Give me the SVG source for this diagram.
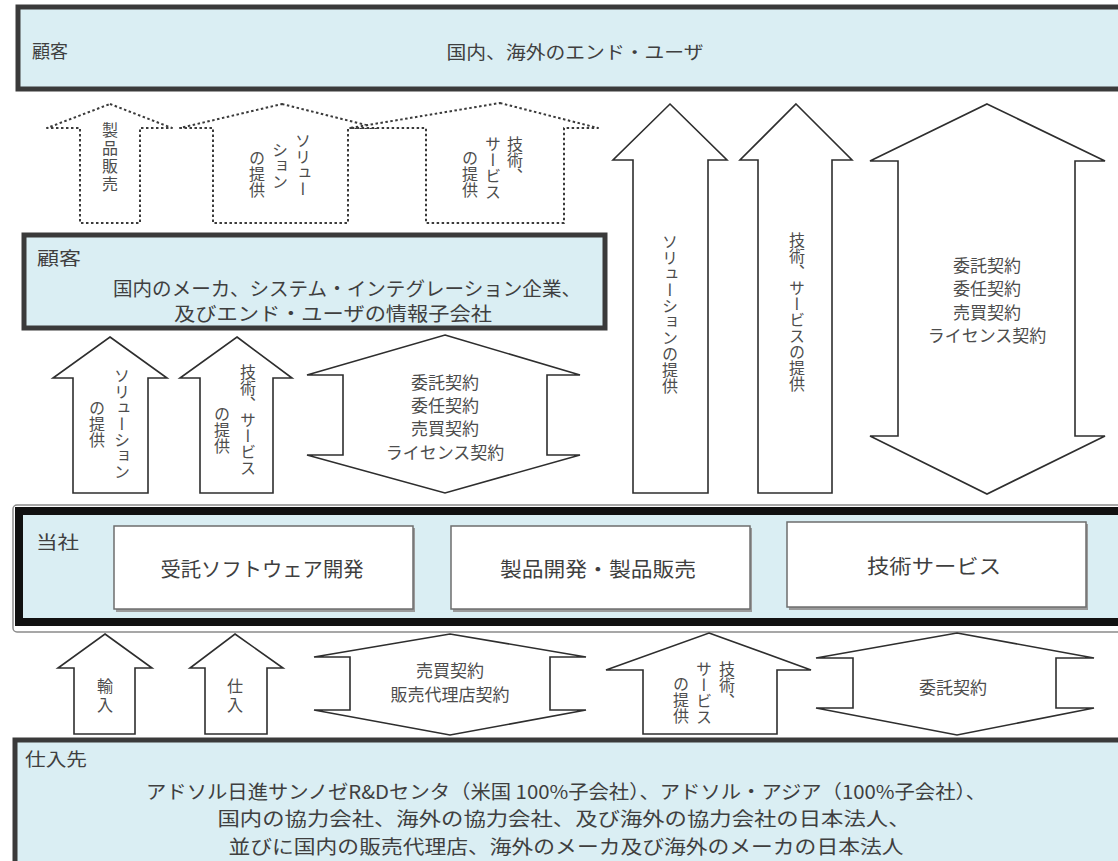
<svg xmlns="http://www.w3.org/2000/svg" width="1118" height="861" viewBox="0 0 1118 861">
<defs>
<style>
text{font-family:"Noto Sans CJK JP","Noto Sans CJK SC",sans-serif;fill:#3f3f3f;}
.band{fill:#DAEEF3;stroke:#3a3a3a;stroke-width:5;}
.arrow{fill:#ffffff;stroke:#2e2e2e;stroke-width:1.6;stroke-linejoin:miter;}
.dash{fill:#ffffff;stroke:#3a3a3a;stroke-width:2;stroke-dasharray:2.5 2.5;stroke-linejoin:round;}
.v{writing-mode:vertical-rl;font-size:16px;fill:#4d4d4d;}
.lbl{font-size:17px;fill:#4d4d4d;text-anchor:middle;}
.h19{font-size:19px;text-anchor:middle;}
.box{fill:#ffffff;stroke:#6e6e6e;stroke-width:1.5;}
.shadow{fill:#9a9a9a;}
</style>
</defs>
<rect x="0" y="0" width="1118" height="861" fill="#ffffff"/>

<g id="customer-top">
<rect class="band" x="18" y="7" width="1110" height="82"/>
<text x="32" y="58" font-size="18">顧客</text>
<text x="575" y="59" font-size="18" text-anchor="middle" textLength="257" lengthAdjust="spacingAndGlyphs">国内、海外のエンド・ユーザ</text>
</g>

<g id="customer-mid">
<rect class="band" x="24" y="235" width="581" height="93"/>
<text x="37" y="265" font-size="18" textLength="44" lengthAdjust="spacingAndGlyphs">顧客</text>
<text class="h19" x="347" y="296" textLength="468" lengthAdjust="spacingAndGlyphs">国内のメーカ、システム・インテグレーション企業、</text>
<text class="h19" x="333" y="321" textLength="318" lengthAdjust="spacingAndGlyphs">及びエンド・ユーザの情報子会社</text>
</g>

<g id="company">
<rect x="13" y="505" width="1120" height="127" rx="4" fill="none" stroke="#8a8a8a" stroke-width="1.5"/>
<rect x="19" y="511" width="1110" height="111" fill="#DAEEF3" stroke="#111111" stroke-width="8"/>
<text x="36" y="549" font-size="18" textLength="43" lengthAdjust="spacingAndGlyphs">当社</text>
<g id="dev">
<rect class="shadow" x="116" y="528" width="299" height="84"/>
<rect class="box" x="114" y="526" width="299" height="83"/>
<text x="262" y="577" font-size="20" text-anchor="middle" textLength="203" lengthAdjust="spacingAndGlyphs">受託ソフトウェア開発</text>
</g>
<g id="product">
<rect class="shadow" x="453" y="528" width="299" height="84"/>
<rect class="box" x="451" y="526" width="299" height="83"/>
<text x="598" y="577" font-size="20" text-anchor="middle" textLength="196" lengthAdjust="spacingAndGlyphs">製品開発・製品販売</text>
</g>
<g id="service">
<rect class="shadow" x="789" y="524" width="299" height="86"/>
<rect class="box" x="787" y="522" width="299" height="85"/>
<text x="934" y="574" font-size="20" text-anchor="middle" textLength="134" lengthAdjust="spacingAndGlyphs">技術サービス</text>
</g>
</g>

<g id="supplier">
<rect class="band" x="15" y="740" width="1115" height="130"/>
<text x="25" y="766" font-size="18" textLength="62" lengthAdjust="spacingAndGlyphs">仕入先</text>
<text class="h19" x="566" y="799" textLength="840" lengthAdjust="spacingAndGlyphs">アドソル日進サンノゼR&amp;Dセンタ（米国 100%子会社）、アドソル・アジア（100%子会社）、</text>
<text class="h19" x="564" y="826" textLength="693" lengthAdjust="spacingAndGlyphs">国内の協力会社、海外の協力会社、及び海外の協力会社の日本法人、</text>
<text class="h19" x="566" y="854" textLength="675" lengthAdjust="spacingAndGlyphs">並びに国内の販売代理店、海外のメーカ及び海外のメーカの日本法人</text>
</g>

<g id="connectors">
<g id="d1">
<polygon class="dash" points="110,104 172,128 140,128 140,223 80,223 80,128 47,128"/>
<text class="v" x="110" y="122" font-size="17" letter-spacing="2">製品販売</text>
</g>
<g id="d2">
<polygon class="dash" points="282,104 378,128 348,128 348,223 213,223 213,128 180,128"/>
<text class="v" x="303" y="133" font-size="17">ソリュー</text>
<text class="v" x="280" y="142" font-size="17">ション</text>
<text class="v" x="257" y="150" font-size="17">の提供</text>
</g>
<g id="d3">
<polygon class="dash" points="500,103 598,128 564,128 564,223 426,223 426,128 350,128"/>
<text class="v" x="515" y="136" font-size="17">技術、</text>
<text class="v" x="493" y="136" font-size="17">サービス</text>
<text class="v" x="470" y="150" font-size="17">の提供</text>
</g>

<g id="a-sol-mid">
<polygon class="arrow" points="110,337 167,378 148,378 148,493 73,493 73,378 53,378"/>
<text class="v" x="122" y="368">ソリューション</text>
<text class="v" x="97" y="400">の提供</text>
</g>
<g id="a-tech-mid">
<polygon class="arrow" points="237,337 292,378 273,378 273,493 200,493 200,378 180,378"/>
<text class="v" x="248" y="364" font-size="17">技術、サービス</text>
<text class="v" x="222" y="406">の提供</text>
</g>
<g id="a-contract-mid">
<polygon class="arrow" points="445,335 580,375 547,375 547,455 580,455 445,493 307,455 343,455 343,375 307,375"/>
<text class="lbl" x="445" y="389">委託契約</text>
<text class="lbl" x="445" y="412">委任契約</text>
<text class="lbl" x="445" y="435">売買契約</text>
<text class="lbl" x="445" y="459">ライセンス契約</text>
</g>

<g id="a-sol-top">
<polygon class="arrow" points="670,104 727,160 708,160 708,493 633,493 633,160 613,160"/>
<text class="v" x="670" y="234" font-size="16.5">ソリューションの提供</text>
</g>
<g id="a-tech-top">
<polygon class="arrow" points="796,104 852,160 832,160 832,493 758,493 758,160 740,160"/>
<text class="v" x="797" y="232" font-size="17.3">技術、サービスの提供</text>
</g>
<g id="a-contract-top">
<polygon class="arrow" points="987,104 1105,161 1075,161 1075,436 1105,436 987,494 870,436 898,436 898,161 870,161"/>
<text class="lbl" x="987" y="272" font-size="18">委託契約</text>
<text class="lbl" x="987" y="295" font-size="18">委任契約</text>
<text class="lbl" x="987" y="319" font-size="18">売買契約</text>
<text class="lbl" x="987" y="342" font-size="18">ライセンス契約</text>
</g>

<g id="a-import">
<polygon class="arrow" points="105,634 152,668 135,668 135,734 74,734 74,668 58,668"/>
<text class="v" x="105" y="678" font-size="17" letter-spacing="3">輸入</text>
</g>
<g id="a-purchase">
<polygon class="arrow" points="235,634 283,668 267,668 267,734 205,734 205,668 190,668"/>
<text class="v" x="235" y="678" font-size="17" letter-spacing="3">仕入</text>
</g>
<g id="a-sales-contract">
<polygon class="arrow" points="450,634 586,657 550,657 550,710 586,710 450,735 314,710 350,710 350,657 314,657"/>
<text class="lbl" x="450" y="677" font-size="16">売買契約</text>
<text class="lbl" x="450" y="701" font-size="16">販売代理店契約</text>
</g>
<g id="a-tech-bottom">
<polygon class="arrow" points="709,633 811,670 777,670 777,734 643,734 643,670 606,670"/>
<text class="v" x="727" y="661">技術、</text>
<text class="v" x="704" y="661">サービス</text>
<text class="v" x="681" y="676">の提供</text>
</g>
<g id="a-entrust-bottom">
<polygon class="arrow" points="957,633 1094,658 1056,658 1056,708 1094,708 957,735 816,708 853,708 853,658 816,658"/>
<text class="lbl" x="953" y="694" font-size="18">委託契約</text>
</g>
</g>
</svg>
